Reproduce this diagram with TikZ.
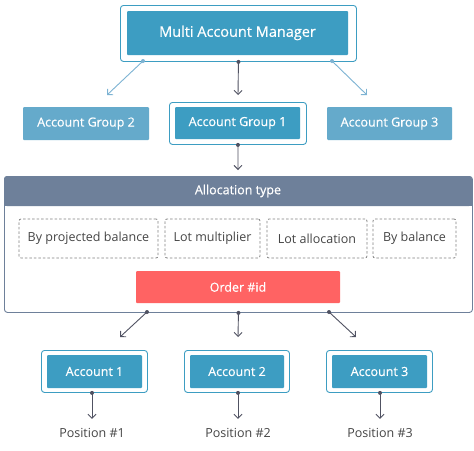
\documentclass[tikz,border=0pt]{standalone}
\usepackage{fontspec}
\setmainfont{Open Sans}[BoldFont={Open Sans},BoldFeatures={FakeBold=0.45}]
\usetikzlibrary{arrows.meta,calc}
\definecolor{mblue}{HTML}{3D9DC2}
\definecolor{lblue}{HTML}{65AACB}
\definecolor{slate}{HTML}{6E809A}
\definecolor{ored}{HTML}{FF6363}
\definecolor{agray}{HTML}{505262}
\definecolor{larrow}{HTML}{7DB3D3}
\definecolor{dgray}{HTML}{808080}
\definecolor{tgray}{HTML}{454545}
\begin{document}
\begin{tikzpicture}[x=1pt,y=-1pt,
  outerbox/.style={draw=mblue,line width=0.9pt,rounded corners=3pt,fill=white,inner sep=0pt,anchor=north west},
  innerbox/.style={fill=mblue,text=white,rounded corners=1pt,inner sep=0pt,anchor=center,font=\fontsize{12.5}{14}\selectfont\bfseries},
  litebox/.style={fill=lblue,text=white,rounded corners=1pt,inner sep=0pt,font=\fontsize{12.5}{14}\selectfont\bfseries},
  dashbox/.style={draw=dgray,dashed,dash pattern=on 2.5pt off 2pt,line width=0.8pt,rounded corners=2pt,inner sep=0pt,text=tgray,font=\fontsize{12.5}{14}\selectfont},
  darr/.style={agray,line width=0.9pt,-{Straight Barb[length=4pt,width=8pt]}},
  larr/.style={larrow,line width=0.9pt,-{Straight Barb[length=4pt,width=8pt]}},
  ddot/.style={fill=agray},
  ldot/.style={fill=larrow},
  poslabel/.style={text=tgray,font=\fontsize{12.5}{14}\selectfont}
]
\useasboundingbox (0,0) rectangle (474,450);
\fill[white] (0,0) rectangle (474,450);

% Multi Account Manager
\node[outerbox,minimum width=236pt,minimum height=56pt] (mamO) at (120,5) {};
\node[innerbox,minimum width=221pt,minimum height=44pt,font=\fontsize{14.5}{16}\selectfont\bfseries] (mam) at (237.5,33) {Multi Account Manager};

% Account groups
\node[litebox,minimum width=126pt,minimum height=33pt] (ag2) at (86,123.5) {Account Group 2};
\node[outerbox,minimum width=137pt,minimum height=42pt] (ag1O) at (169,102) {};
\node[innerbox,minimum width=125pt,minimum height=32pt] (ag1) at (237.5,123) {Account Group 1};
\node[litebox,minimum width=125pt,minimum height=33pt] (ag3) at (389.5,123.5) {Account Group 3};

\coordinate (s2) at (143,61);
\coordinate (s3) at (332,61);
\coordinate (e2) at (107,95);
\coordinate (e1) at (238,95);
\coordinate (e3) at (367,95);
\draw[larr] (s2) -- (e2);
\draw[darr] (mamO.south) -- (e1);
\draw[larr] (s3) -- (e3);
\fill[ldot] (s2) circle (2pt);
\fill[ldot] (s3) circle (2pt);
\fill[ddot] (mamO.south) circle (2pt);

% Allocation block
\node[draw=slate,line width=0.9pt,rounded corners=3pt,fill=white,minimum width=468pt,minimum height=136pt,inner sep=0pt,anchor=north west] (alloc) at (4,176) {};
\fill[slate,rounded corners=3pt] (4,176) rectangle (472,206);
\fill[slate] (4,196) rectangle (472,206);
\node[text=white,font=\fontsize{12.5}{14}\selectfont\bfseries] (atitle) at (238,191) {Allocation type};
\coordinate (ae) at (238,170);
\draw[darr] (ag1O.south) -- (ae);
\fill[ddot] (ag1O.south) circle (2pt);

\node[dashbox,minimum width=139pt,minimum height=39pt] (d1) at (88.5,238.5) {By projected balance};
\node[dashbox,minimum width=95pt,minimum height=39pt] (d2) at (212.5,238.5) {Lot multiplier};
\node[dashbox,minimum width=100pt,minimum height=39pt] (d3) at (317,238.5) {Lot allocation};
\node[dashbox,minimum width=83pt,minimum height=39pt] (d4) at (414.5,238.5) {By balance};

\node[fill=ored,text=white,rounded corners=1pt,inner sep=0pt,minimum width=204pt,minimum height=32pt,font=\fontsize{12.5}{14}\selectfont\bfseries] (order) at (238,287) {Order \#id};

% Accounts
\node[outerbox,minimum width=106pt,minimum height=42pt] (a1O) at (41,350) {};
\node[innerbox,minimum width=95pt,minimum height=33pt] (a1) at (94.5,371.5) {Account 1};
\node[outerbox,minimum width=105pt,minimum height=42pt] (a2O) at (184,350) {};
\node[innerbox,minimum width=94pt,minimum height=33pt] (a2) at (237,371.5) {Account 2};
\node[outerbox,minimum width=106pt,minimum height=42pt] (a3O) at (326,350) {};
\node[innerbox,minimum width=95pt,minimum height=33pt] (a3) at (379.5,371.5) {Account 3};

\coordinate (o1) at (147,312);
\coordinate (o3) at (329,312);
\coordinate (t1) at (120,337);
\coordinate (t2) at (238,337);
\coordinate (t3) at (356,337);
\draw[darr] (o1) -- (t1);
\draw[darr] (alloc.south) -- (t2);
\draw[darr] (o3) -- (t3);
\fill[ddot] (o1) circle (2pt);
\fill[ddot] (o3) circle (2pt);
\fill[ddot] (alloc.south) circle (2pt);

\node[poslabel] (p1) at (92,433) {Position \#1};
\node[poslabel] (p2) at (238,433) {Position \#2};
\node[poslabel] (p3) at (380,433) {Position \#3};
\draw[darr] (a1O.south -| p1) -- ($(p1.north)+(0,-6)$);
\draw[darr] (a2O.south -| p2) -- ($(p2.north)+(0,-6)$);
\draw[darr] (a3O.south -| p3) -- ($(p3.north)+(0,-6)$);
\fill[ddot] (a1O.south -| p1) circle (2pt);
\fill[ddot] (a2O.south -| p2) circle (2pt);
\fill[ddot] (a3O.south -| p3) circle (2pt);
\end{tikzpicture}
\end{document}
